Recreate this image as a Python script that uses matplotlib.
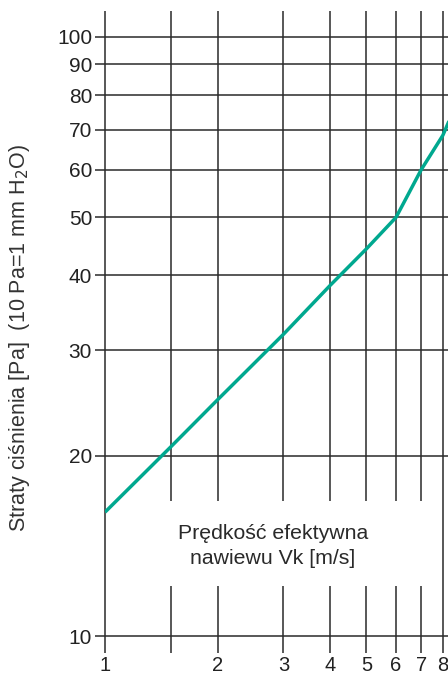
import matplotlib
matplotlib.use('Agg')
import matplotlib.pyplot as plt
import numpy as np

plt.rcParams['font.family'] = ['Liberation Sans', 'DejaVu Sans']

# velocity [m/s] vs pressure loss [Pa]
speed = [1, 1.5, 2, 3, 4, 5, 6, 7, 8, 8.4]
loss = [16.1, 20.7, 24.8, 31.9, 38.5, 44.3, 50, 60, 68.5, 73.5]

x_grid = [1, 1.5, 2, 3, 4, 5, 6, 7, 8]
x_ticks = [1, 2, 3, 4, 5, 6, 7, 8]
x_labels = ['1', '2', '3', '4', '5', '6', '7', '8']
y_ticks = [10, 20, 30, 40, 50, 60, 70, 80, 90, 100]

grid_col = '#2a2a2a'
line_col = '#00a88f'

fig = plt.figure(figsize=(4.48, 6.77), dpi=100)
ax = fig.add_axes([105 / 448, 24 / 677, 343 / 448, 642 / 677])
ax.set_xscale('log')
ax.set_yscale('log')
ax.set_xlim(1, 8.26)
ax.set_ylim(9.37, 110.5)

# vertical grid, interrupted behind the axis caption
ymin, ymax = ax.get_ylim()
gap_lo, gap_hi = 12.1, 16.8
for xv in x_grid:
    if xv in (1, 8):
        ax.vlines(xv, ymin, ymax, color=grid_col, lw=1.1, clip_on=False, zorder=1)
    else:
        ax.vlines(xv, ymin, gap_lo, color=grid_col, lw=1.1, zorder=1)
        ax.vlines(xv, gap_hi, ymax, color=grid_col, lw=1.1, zorder=1)

for yv in y_ticks:
    ax.axhline(yv, color=grid_col, lw=1.1, zorder=1)

ax.plot(speed, loss, color=line_col, lw=2.5, zorder=3, solid_capstyle='butt')

for s in ax.spines.values():
    s.set_visible(False)

ax.set_yticks(y_ticks)
ax.set_yticklabels([str(v) for v in y_ticks])
ax.yaxis.set_minor_locator(matplotlib.ticker.NullLocator())
ax.tick_params(axis='y', direction='out', length=7.3, width=1.1, color=grid_col,
               labelsize=15, pad=2, labelcolor='#222222')

ax.set_xticks(x_ticks)
ax.set_xticklabels(x_labels)
ax.xaxis.set_minor_locator(matplotlib.ticker.NullLocator())
ax.tick_params(axis='x', length=0, labelsize=14.5, pad=2, labelcolor='#222222')

ax.set_ylabel('Straty ciśnienia [Pa]  (10 Pa=1 mm H$_2$O)', fontsize=15.5,
              color='#333333')
ax.yaxis.set_label_coords(-0.212, 0.49)

ax.text(0.49, 0.166, 'Prędkość efektywna\nnawiewu Vk [m/s]', transform=ax.transAxes,
        ha='center', va='center', fontsize=15.3, color='#2a2a2a', linespacing=1.4)

fig.savefig('out.png', dpi=100)
